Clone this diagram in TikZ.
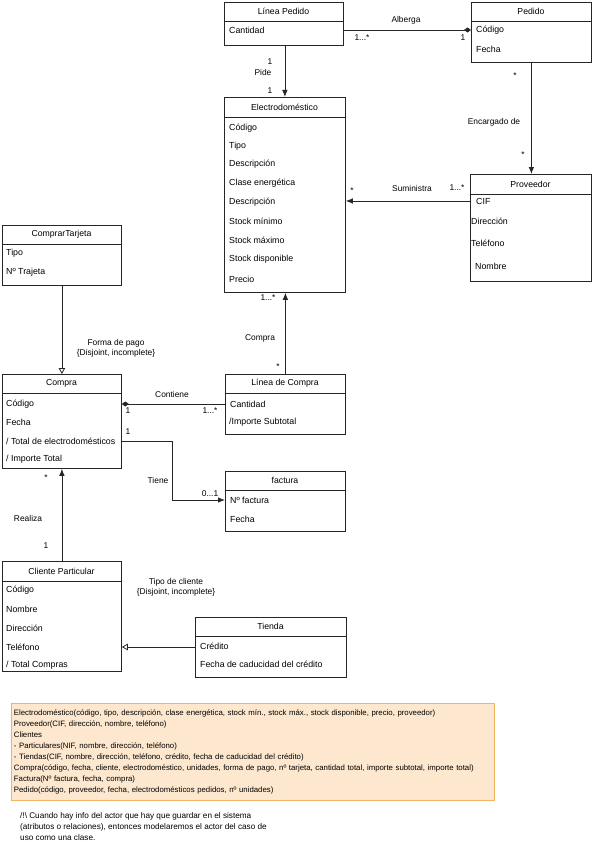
\documentclass[tikz,border=0pt]{standalone}
\usepackage{fontspec}
\setmainfont{Liberation Sans}
\usetikzlibrary{arrows.meta}

\begin{document}
\begin{tikzpicture}[
	x=1pt, y=-1pt,
	cls/.style={draw=black!85, line width=0.8pt, fill=white, anchor=north west, inner sep=0pt},
	clsname/.style={inner sep=0pt, font=\fontsize{8.7}{10}\selectfont},
	attr/.style={anchor=west, inner sep=0pt, font=\fontsize{8.8}{10}\selectfont},
	lbl/.style={inner sep=0pt, font=\fontsize{8.4}{10}\selectfont, align=center},
	divider/.style={draw=black!85, line width=0.8pt},
	assoc/.style={draw=black!85, line width=0.8pt, -{Latex[length=7pt,width=5.5pt]}},
	comp/.style={draw=black!85, line width=0.8pt, -{Diamond[length=7pt,width=5pt]}},
	gen/.style={draw=black!85, line width=0.8pt, -{Triangle[open,length=6pt,width=6.5pt]}}
]
\useasboundingbox (0,0) rectangle (592,848);

% Linea Pedido
\node[cls, minimum width=119pt, minimum height=43pt] (lped) at (224,2) {};
\node[clsname] (lpedT) at (283.5,11.5) {Línea Pedido};
\draw[divider] (lped.west |- 0,21) -- (lped.east |- 0,21);
\node[attr] (lpedA1) at (229,30) {Cantidad};

% Pedido
\node[cls, minimum width=120pt, minimum height=60pt] (ped) at (471,2) {};
\node[clsname] (pedT) at (531,11.5) {Pedido};
\draw[divider] (ped.west |- 0,21) -- (ped.east |- 0,21);
\node[attr] (pedA1) at (476,30) {Código};
\node[attr] (pedA2) at (476,49) {Fecha};

% Electrodomestico
\node[cls, minimum width=121pt, minimum height=195pt] (elec) at (224,97) {};
\node[clsname] (elecT) at (284.5,107) {Electrodoméstico};
\draw[divider] (elec.west |- 0,117) -- (elec.east |- 0,117);
\node[attr] (elecA1) at (229,128) {Código};
\node[attr] (elecA2) at (229,146) {Tipo};
\node[attr] (elecA3) at (229,164) {Descripción};
\node[attr] (elecA4) at (229,183) {Clase energética};
\node[attr] (elecA5) at (229,202) {Descripción};
\node[attr] (elecA6) at (229,221) {Stock mínimo};
\node[attr] (elecA7) at (229,240) {Stock máximo};
\node[attr] (elecA8) at (229,259) {Stock disponible};
\node[attr] (elecA9) at (229,279) {Precio};

% Proveedor
\node[cls, minimum width=121pt, minimum height=107pt] (prov) at (470,174) {};
\node[clsname] (provT) at (530.5,184) {Proveedor};
\draw[divider] (prov.west |- 0,194) -- (prov.east |- 0,194);
\node[attr] (provA1) at (476,201) {CIF};
\node[attr] (provA2) at (471,221) {Dirección};
\node[attr] (provA3) at (471,243) {Teléfono};
\node[attr] (provA4) at (475,266) {Nombre};

% ComprarTarjeta
\node[cls, minimum width=119pt, minimum height=60pt] (tarj) at (2,225) {};
\node[clsname] (tarjT) at (61.5,234.5) {ComprarTarjeta};
\draw[divider] (tarj.west |- 0,244) -- (tarj.east |- 0,244);
\node[attr] (tarjA1) at (6,253) {Tipo};
\node[attr] (tarjA2) at (6,272) {Nº Trajeta};

% Compra
\node[cls, minimum width=119pt, minimum height=94pt] (compra) at (2,374) {};
\node[clsname] (compraT) at (61.5,383.5) {Compra};
\draw[divider] (compra.west |- 0,393) -- (compra.east |- 0,393);
\node[attr] (compraA1) at (6,404) {Código};
\node[attr] (compraA2) at (6,422) {Fecha};
\node[attr] (compraA3) at (6,441) {/ Total de electrodomésticos};
\node[attr] (compraA4) at (6,459) {/ Importe Total};

% Linea de Compra
\node[cls, minimum width=120pt, minimum height=60pt] (lcom) at (225,374) {};
\node[clsname] (lcomT) at (285,383.5) {Línea de Compra};
\draw[divider] (lcom.west |- 0,393) -- (lcom.east |- 0,393);
\node[attr] (lcomA1) at (230,404) {Cantidad};
\node[attr] (lcomA2) at (229,422) {/Importe Subtotal};

% factura
\node[cls, minimum width=120pt, minimum height=60pt] (fact) at (225,471) {};
\node[clsname] (factT) at (285,480.5) {factura};
\draw[divider] (fact.west |- 0,490) -- (fact.east |- 0,490);
\node[attr] (factA1) at (230,500) {Nº factura};
\node[attr] (factA2) at (230,519) {Fecha};

% Cliente Particular
\node[cls, minimum width=119pt, minimum height=110pt] (cli) at (2,561) {};
\node[clsname] (cliT) at (61.5,571) {Cliente Particular};
\draw[divider] (cli.west |- 0,581) -- (cli.east |- 0,581);
\node[attr] (cliA1) at (6,590) {Código};
\node[attr] (cliA2) at (6,609) {Nombre};
\node[attr] (cliA3) at (6,628) {Dirección};
\node[attr] (cliA4) at (6,647) {Teléfono};
\node[attr] (cliA5) at (6,665) {/ Total Compras};

% Tienda
\node[cls, minimum width=151pt, minimum height=60pt] (tienda) at (195,617) {};
\node[clsname] (tiendaT) at (270.5,626.5) {Tienda};
\draw[divider] (tienda.west |- 0,636) -- (tienda.east |- 0,636);
\node[attr] (tiendaA1) at (200,646) {Crédito};
\node[attr] (tiendaA2) at (200,664) {Fecha de caducidad del crédito};

% relaciones
\draw[comp] (lped.east |- lpedA1) -- (ped.west |- lpedA1);
\node[lbl] (alberga) at (406,20) {Alberga};
\node[lbl] (albergaM1) at (362,38) {1...*};
\node[lbl] (albergaM2) at (463,38) {1};

\draw[assoc] (elec.north |- lped.south) -- (elec.north);
\node[lbl] (pideM1) at (270,62) {1};
\node[lbl] (pide) at (263,72) {Pide};
\node[lbl] (pideM2) at (270,91) {1};

\draw[assoc] (ped.south) -- (ped.south |- prov.north);
\node[lbl] (encM1) at (515,76) {*};
\node[lbl] (enc) at (494,122) {Encargado de};
\node[lbl] (encM2) at (523,155) {*};

\draw[assoc] (prov.west |- provA1) -- (elec.east |- provA1);
\node[lbl] (sum) at (412,188) {Suministra};
\node[lbl] (sumM1) at (457,188) {1...*};
\node[lbl] (sumM2) at (352,191) {*};

\draw[assoc] (lcom.north) -- (lcom.north |- elec.south);
\node[lbl] (cmpM1) at (268,298) {1...*};
\node[lbl] (cmp) at (260,338) {Compra};
\node[lbl] (cmpM2) at (278,367) {*};

\draw[gen] (tarj.south) -- (compra.north);
\node[lbl] (pago) at (116,348) {Forma de pago\\\{Disjoint, incomplete\}};

\draw[comp] (lcom.west |- compraA1) -- (compra.east |- compraA1);
\node[lbl] (cont) at (172,394) {Contiene};
\node[lbl] (contM1) at (128,411) {1};
\node[lbl] (contM2) at (210,411) {1...*};

\draw[assoc] (compra.east |- compraA3) -- ++(51,0) |- (fact.west |- factA1);
\node[lbl] (tieneM1) at (128,432) {1};
\node[lbl] (tiene) at (158,480) {Tiene};
\node[lbl] (tieneM2) at (210,494) {0...1};

\draw[assoc] (cli.north) -- (compra.south);
\node[lbl] (realM1) at (46,478) {*};
\node[lbl] (real) at (28,518) {Realiza};
\node[lbl] (realM2) at (46,546) {1};

\draw[gen] (tienda.west |- cliA4) -- (cli.east |- cliA4);
\node[lbl] (tipocli) at (176,587) {Tipo de cliente\\\{Disjoint, incomplete\}};

% modelo relacional
\node[draw={rgb,255:red,243;green,180;blue,96}, line width=0.8pt,
	fill={rgb,255:red,253;green,231;blue,206}, anchor=north west,
	minimum width=483pt, minimum height=97pt, inner sep=2.5pt,
	text width=478pt, align=left,
	font=\fontsize{7.8}{11}\selectfont] (rel) at (11,703) {%
Electrodoméstico(código, tipo, descripción, clase energética, stock mín., stock máx., stock disponible, precio, proveedor)\\
Proveedor(CIF, dirección, nombre, teléfono)\\
Clientes\\
- Particulares(NIF, nombre, dirección, teléfono)\\
- Tiendas(CIF, nombre, dirección, teléfono, crédito, fecha de caducidad del crédito)\\
Compra(código, fecha, cliente, electrodoméstico, unidades, forma de pago, nº tarjeta, cantidad total, importe subtotal, importe total)\\
Factura(Nº factura, fecha, compra)\\
Pedido(código, proveedor, fecha, electrodomésticos pedidos, nº unidades)};

% nota
\node[anchor=north west, inner sep=0pt, align=left,
	font=\fontsize{8.2}{11}\selectfont] (nota) at (20,812) {%
/!\textbackslash{} Cuando hay info del actor que hay que guardar en el sistema\\
(atributos o relaciones), entonces modelaremos el actor del caso de\\
uso como una clase.};
\end{tikzpicture}
\end{document}
